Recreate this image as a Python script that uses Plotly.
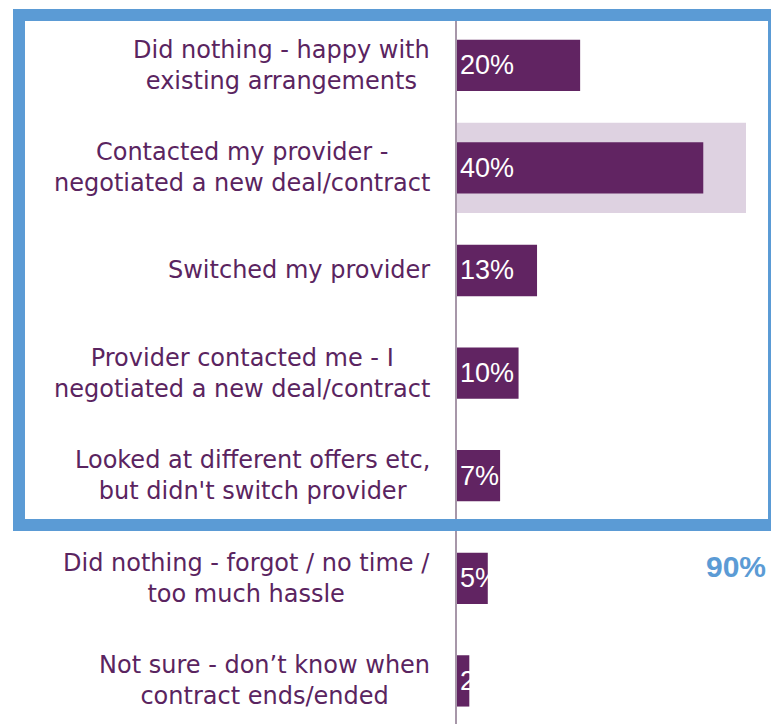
import plotly.graph_objects as go

# ---- data ----
categories = [
    "Did nothing - happy with<br>existing arrangements",
    "Contacted my provider -<br>negotiated a new deal/contract",
    "Switched my provider",
    "Provider contacted me - I<br>negotiated a new deal/contract",
    "Looked at different offers etc,<br>but didn't switch provider",
    "Did nothing - forgot / no time /<br>too much hassle",
    "Not sure - don\u2019t know when<br>contract ends/ended",
]
values = [20, 40, 13, 10, 7, 5, 2]
highlight_index = 1
total_label = "90%"

# ---- style ----
W, H = 771, 724
ML = 457
MT = 15
PURPLE = "#612462"
TEXT_PURPLE = "#5a2460"
HILITE = "#ded2e1"
BLUE = "#5b9bd5"
AXIS = "#a797a9"


def px_x(px):
    return (px - ML) / (W - ML)


def px_y(py):
    return 1 - (py - MT) / (H - MT)


keys = [f"c{i}" for i in range(len(categories))]

fig = go.Figure()
fig.add_trace(go.Bar(
    x=values,
    y=keys,
    orientation="h",
    width=0.5,
    marker=dict(color=PURPLE, line=dict(width=0)),
    text=[f"{v}%" for v in values],
    textposition="inside",
    insidetextanchor="start",
    constraintext="none",
    textangle=0,
    textfont=dict(family="Liberation Sans, Arial, sans-serif", size=27, color="white"),
    hoverinfo="skip",
))

annotations = []
for k, lab in zip(keys, categories):
    annotations.append(dict(
        xref="paper", yref="y", x=0, y=k, xshift=-25,
        xanchor="right", yanchor="middle", align="center",
        text=lab, showarrow=False,
        font=dict(family="DejaVu Sans, sans-serif", size=24, color=TEXT_PURPLE),
    ))
annotations.append(dict(
    xref="paper", yref="paper", x=px_x(736), y=px_y(566),
    xanchor="center", yanchor="middle", text=f"<b>{total_label}</b>",
    showarrow=False,
    font=dict(family="Liberation Sans, Arial, sans-serif", size=30, color=BLUE),
))

shapes = [
    # highlight behind the top bar
    dict(type="rect", layer="below", xref="paper", yref="y",
         x0=px_x(455), x1=px_x(746),
         y0=highlight_index - 0.44, y1=highlight_index + 0.44,
         fillcolor=HILITE, line=dict(width=0)),
    # blue frame round the top five answers
    dict(type="rect", layer="above", xref="paper", yref="paper",
         x0=px_x(19), x1=px_x(774), y0=px_y(525), y1=px_y(15),
         line=dict(color=BLUE, width=12), fillcolor="rgba(0,0,0,0)"),
]

fig.update_layout(
    width=W, height=H,
    margin=dict(l=ML, r=0, t=MT, b=0),
    paper_bgcolor="white", plot_bgcolor="white",
    showlegend=False,
    annotations=annotations,
    shapes=shapes,
    bargap=0.5,
)
fig.update_xaxes(range=[0, 51], visible=False, showgrid=False, zeroline=False)
fig.update_yaxes(
    type="category", categoryarray=keys, range=[6.42, -0.49],
    showticklabels=False, ticks="", showgrid=False, zeroline=False,
    showline=True, linecolor=AXIS, linewidth=1.5,
)

fig.write_html(
    "out.html",
    config={"displayModeBar": False},
    post_script="document.body.style.margin='0';document.body.style.overflow='hidden';",
)
